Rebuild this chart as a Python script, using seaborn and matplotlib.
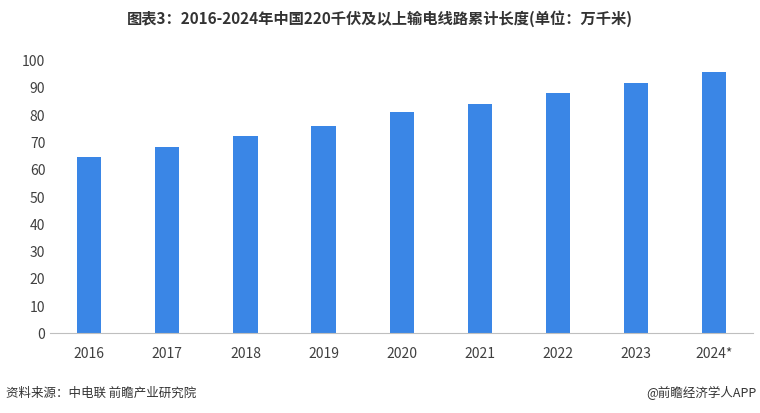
import matplotlib
matplotlib.use("Agg")
import matplotlib.pyplot as plt
import seaborn as sns
import pandas as pd

years = ["2016", "2017", "2018", "2019", "2020", "2021", "2022", "2023", "2024*"]
values = [64.5, 68.5, 72.5, 76.0, 81.2, 84.3, 88.3, 92.0, 96.0]
yticks = [0, 10, 20, 30, 40, 50, 60, 70, 80, 90, 100]

plt.rcParams["font.family"] = ["Noto Sans CJK SC", "DejaVu Sans"]
df = pd.DataFrame({"year": years, "value": values})

fig = plt.figure(figsize=(7.6, 4.13), dpi=100)
ax = fig.add_axes([0.066, 0.193, 0.925, 0.66])
sns.barplot(data=df, x="year", y="value", color="#3A86E6", width=0.31, ax=ax, saturation=1)
ax.set_ylim(0, 100)
ax.set_yticks(yticks)
ax.set_xlim(-0.5, len(years) - 0.5)
ax.set_xlabel("")
ax.set_ylabel("")
for s in ["top", "right", "left"]:
    ax.spines[s].set_visible(False)
ax.spines["bottom"].set_color("#BFBFBF")
ax.tick_params(axis="both", length=0, labelsize=10, colors="#404040")
ax.tick_params(axis="x", pad=10)

fig.text(0.5, 0.955, "图表3：2016-2024年中国220千伏及以上输电线路累计长度(单位：万千米)",
         ha="center", va="center", fontsize=11, fontweight="bold", color="#333333")
fig.text(0.008, 0.048, "资料来源：中电联 前瞻产业研究院", ha="left", va="center", fontsize=9, color="#333333")
fig.text(0.995, 0.048, "@前瞻经济学人APP", ha="right", va="center", fontsize=9, color="#333333")
fig.savefig("out.png", dpi=100)
